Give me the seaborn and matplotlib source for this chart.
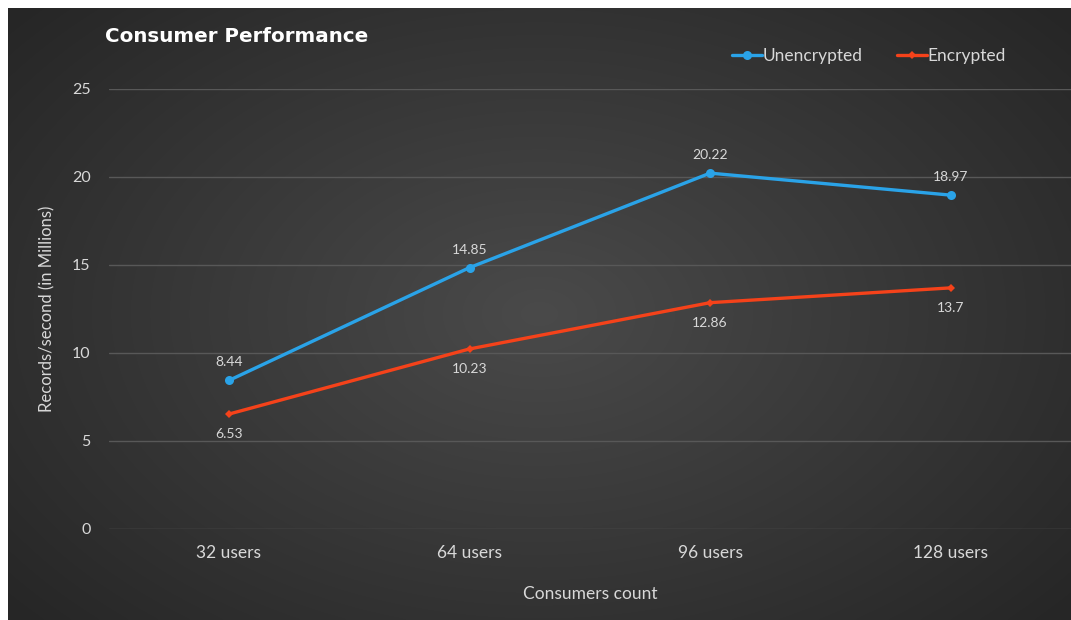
import numpy as np
import pandas as pd
import matplotlib
matplotlib.use("Agg")
import matplotlib.pyplot as plt
import seaborn as sns

categories = ["32 users", "64 users", "96 users", "128 users"]
unencrypted = [8.44, 14.85, 20.22, 18.97]
encrypted = [6.53, 10.23, 12.86, 13.7]
series_names = ["Unencrypted", "Encrypted"]
y_ticks = [0, 5, 10, 15, 20, 25]

BLUE = "#2aa3e8"
RED = "#f5421a"
TEXT = "#d8d8d8"

sns.set_theme(style="dark")
plt.rcParams["font.family"] = ["Lato", "DejaVu Sans"]

W, H = 1071, 620
fig = plt.figure(figsize=(W / 100, H / 100), dpi=100, facecolor="white")

# dark panel with a soft radial gradient
bg = fig.add_axes([8 / W, 0, 1 - 8 / W, 1 - 8 / H])
bg.set_axis_off()
yy, xx = np.mgrid[0:1:300j, 0:1:500j]
r = np.sqrt(((xx - 0.5) / 0.75) ** 2 + ((yy - 0.5) / 0.85) ** 2)
shade = np.clip(0.29 - 0.16 * r, 0.15, 0.29)
bg.imshow(np.dstack([shade] * 3), aspect="auto", extent=[0, 1, 0, 1],
          interpolation="bicubic")
bg.set_xlim(0, 1)
bg.set_ylim(0, 1)

ax = fig.add_axes([108.6 / W, (H - 529) / H, 1 - 108.6 / W, (529 - 89) / H])
ax.set_facecolor("none")

df = pd.DataFrame({
    "Consumers": categories * 2,
    "Value": unencrypted + encrypted,
    "Series": [series_names[0]] * 4 + [series_names[1]] * 4,
})

sns.lineplot(data=df[df.Series == series_names[0]], x="Consumers", y="Value",
             color=BLUE, lw=2.4, marker="o", markersize=6.5, markeredgewidth=0,
             sort=False, ax=ax, label=series_names[0])
sns.lineplot(data=df[df.Series == series_names[1]], x="Consumers", y="Value",
             color=RED, lw=2.4, marker="D", markersize=4.5, markeredgewidth=0,
             sort=False, ax=ax, label=series_names[1])

for i, v in enumerate(unencrypted):
    ax.annotate(f"{v:g}", (i, v), xytext=(0, 13), textcoords="offset points",
                ha="center", va="center", color=TEXT, fontsize=10)
for i, v in enumerate(encrypted):
    ax.annotate(f"{v:g}", (i, v), xytext=(0, -14.5), textcoords="offset points",
                ha="center", va="center", color=TEXT, fontsize=10)

ax.set_xlim(-0.5, 3.5)
ax.set_ylim(0, 25)
ax.set_yticks(y_ticks)
ax.yaxis.grid(True, color="#585858", lw=1)
ax.xaxis.grid(False)
for s in ax.spines.values():
    s.set_visible(False)
ax.tick_params(axis="both", length=0, colors=TEXT)
ax.tick_params(axis="x", labelsize=12.5, pad=11.5)
ax.tick_params(axis="y", labelsize=11.5, pad=13)
ax.set_xlabel("Consumers count", color=TEXT, fontsize=12.5, labelpad=18)
ax.set_ylabel("Records/second (in Millions)", color=TEXT, fontsize=12, labelpad=12)

leg = ax.legend(loc="center right", bbox_to_anchor=(0.9325, 1.075), ncol=2,
                frameon=False, fontsize=12.5, handlelength=1.7,
                handletextpad=0.05, columnspacing=2.0,
                borderpad=0, borderaxespad=0)
for t in leg.get_texts():
    t.set_color(TEXT)

fig.text(105 / W, 1 - 37 / H, "Consumer Performance", color="white",
         fontsize=14.3, fontweight="bold", ha="left", va="center",
         family="DejaVu Sans")

fig.savefig("out.png", dpi=100, facecolor="white")
